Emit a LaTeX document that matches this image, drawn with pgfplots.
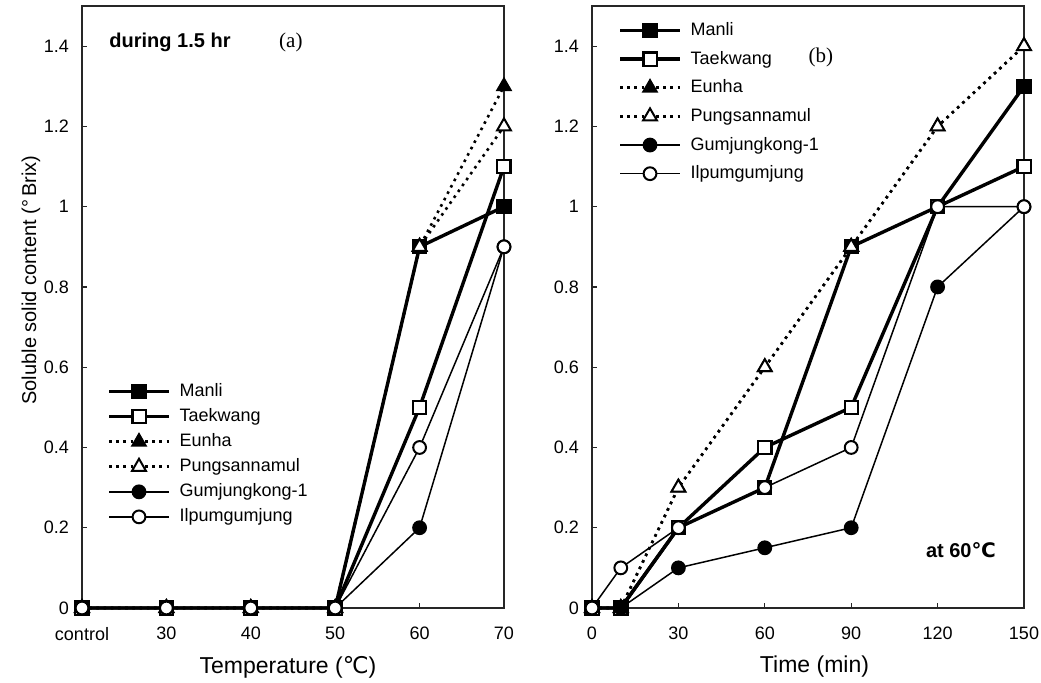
\documentclass[border=0pt]{standalone}
\usepackage{fontspec}
\setmainfont{Liberation Sans}
\newfontfamily\seriffont{Liberation Serif}
\newfontfamily\symfont{DejaVu Sans}
\usepackage{pgfplots}
\pgfplotsset{compat=1.18}

\pgfplotsset{
  soy/.style={
    scale only axis, clip=false,
    ymin=0, ymax=1.5,
    ytick={0,0.2,0.4,0.6,0.8,1,1.2,1.4},
    yticklabels={0,0.2,0.4,0.6,0.8,1,1.2,1.4},
    tick align=inside, tick pos=left, major tick length=2.5pt,
    axis line style={line width=0.6pt, black!85},
    tick style={line width=0.6pt, black!85},
    tick label style={font=\fontsize{9}{10}\selectfont},
    yticklabel style={xshift=-3pt},
    xticklabel style={yshift=-6pt},
    label style={font=\fontsize{11.5}{12}\selectfont},
    legend style={draw=none, fill=none, inner sep=0pt,
      font=\fontsize{9}{10}\selectfont, cells={anchor=west}, column sep=2.5pt},
    legend image code/.code={\draw[mark repeat=2,mark phase=2,##1]
      plot coordinates {(0pt,0pt) (15pt,0pt) (30pt,0pt)};},
  },
  manli/.style={black, line width=1.7pt, mark=square*, mark size=3.3pt,
    mark options={solid, fill=black, line width=1pt}},
  taek/.style={black, line width=1.7pt, mark=square*, mark size=3.3pt,
    mark options={solid, fill=white, line width=1.1pt}},
  eunha/.style={black, line width=1.3pt, dash pattern=on 1.3pt off 2.3pt,
    mark=triangle*, mark size=4pt, mark options={solid, fill=black, line width=0.8pt}},
  pung/.style={black, line width=1.3pt, dash pattern=on 1.3pt off 2.3pt,
    mark=triangle*, mark size=4pt, mark options={solid, fill=white, line width=1pt}},
  gum/.style={black, line width=0.75pt, mark=*, mark size=3.2pt,
    mark options={solid, fill=black, line width=1pt}},
  ilpum/.style={black, line width=0.75pt, mark=*, mark size=3.2pt,
    mark options={solid, fill=white, line width=1pt}},
}

\begin{document}
\begin{tikzpicture}
\useasboundingbox (0,0) rectangle (520.5pt,341pt);

% (a) temperature, 1.5 hr
\begin{axis}[soy,
  at={(41pt,37pt)}, anchor=south west,
  width=211pt, height=301pt,
  xmin=0, xmax=5,
  xtick={0,1,2,3,4,5},
  xticklabels={control,30,40,50,60,70},
  xlabel={Temperature ({\symfont ℃})},
  ylabel={Soluble solid content (°\,Brix)},
  xlabel style={at={(axis description cs:0.488,-0.098)}, anchor=center},
  ylabel style={at={(axis description cs:-0.121,0.545)}, anchor=center, font=\fontsize{10}{12}\selectfont},
  legend style={at={(axis description cs:0.059,0.380)}, anchor=north west, row sep=0.5pt},
]
\addplot[manli] coordinates {(0,0) (1,0) (2,0) (3,0) (4,0.9) (5,1.0)};
\addlegendentry{Manli}
\addplot[taek] coordinates {(0,0) (1,0) (2,0) (3,0) (4,0.5) (5,1.1)};
\addlegendentry{Taekwang}
\addplot[eunha] coordinates {(0,0) (1,0) (2,0) (3,0) (4,0.9) (5,1.3)};
\addlegendentry{Eunha}
\addplot[pung] coordinates {(0,0) (1,0) (2,0) (3,0) (4,0.9) (5,1.2)};
\addlegendentry{Pungsannamul}
\addplot[gum] coordinates {(0,0) (1,0) (2,0) (3,0) (4,0.2) (5,0.9)};
\addlegendentry{Gumjungkong-1}
\addplot[ilpum] coordinates {(0,0) (1,0) (2,0) (3,0) (4,0.4) (5,0.9)};
\addlegendentry{Ilpumgumjung}
\node[font=\bfseries\fontsize{10}{11}\selectfont] at (axis description cs:0.2085,0.940) {during 1.5 hr};
\node[font=\seriffont\fontsize{10.5}{12}\selectfont] at (axis description cs:0.495,0.940) {(a)};
\end{axis}

% (b) time at 60 C
\begin{axis}[soy,
  at={(296pt,37pt)}, anchor=south west,
  width=216pt, height=301pt,
  xmin=0, xmax=150,
  xtick={0,30,60,90,120,150},
  xticklabels={0,30,60,90,120,150},
  xlabel={Time (min)},
  xlabel style={at={(axis description cs:0.515,-0.098)}, anchor=center},
  legend style={at={(axis description cs:0.060,0.980)}, anchor=north west, row sep=2.3pt},
]
\addplot[manli] coordinates {(0,0) (10,0) (30,0.2) (60,0.3) (90,0.9) (120,1.0) (150,1.3)};
\addlegendentry{Manli}
\addplot[taek] coordinates {(0,0) (10,0) (30,0.2) (60,0.4) (90,0.5) (120,1.0) (150,1.1)};
\addlegendentry{Taekwang}
\addplot[eunha] coordinates {(0,0) (10,0) (30,0.3) (60,0.6) (90,0.9) (120,1.2) (150,1.4)};
\addlegendentry{Eunha}
\addplot[pung] coordinates {(0,0) (10,0) (30,0.3) (60,0.6) (90,0.9) (120,1.2) (150,1.4)};
\addlegendentry{Pungsannamul}
\addplot[gum] coordinates {(0,0) (10,0) (30,0.1) (60,0.15) (90,0.2) (120,0.8) (150,1.0)};
\addlegendentry{Gumjungkong-1}
\addplot[ilpum] coordinates {(0,0) (10,0.1) (30,0.2) (60,0.3) (90,0.4) (120,1.0) (150,1.0)};
\addlegendentry{Ilpumgumjung}
\node[font=\bfseries\fontsize{10}{11}\selectfont] at (axis description cs:0.854,0.096) {at 60{\symfont ℃}};
\node[font=\seriffont\fontsize{10.5}{12}\selectfont] at (axis description cs:0.530,0.915) {(b)};
\end{axis}
\end{tikzpicture}
\end{document}
